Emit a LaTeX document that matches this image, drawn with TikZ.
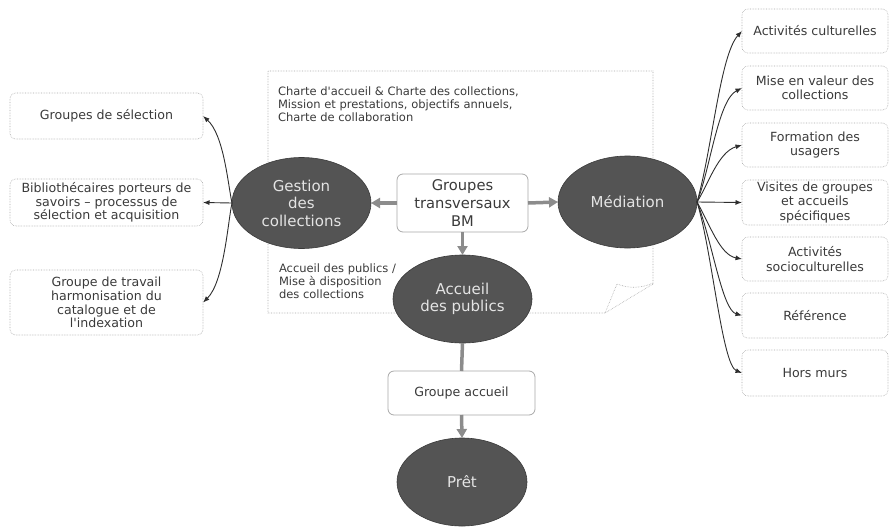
\documentclass[tikz,border=0pt]{standalone}
\usepackage{fontspec}
\setmainfont{DejaVu Sans}
\usetikzlibrary{shapes.geometric,arrows.meta}
\definecolor{txt}{HTML}{3A3A3A}
\definecolor{ellfill}{HTML}{545454}
\definecolor{ellline}{HTML}{3A3A3A}
\definecolor{elltxt}{HTML}{E4E4E4}
\definecolor{thickc}{HTML}{8C8C8C}
\definecolor{boxline}{HTML}{A8A8A8}
\definecolor{thinc}{HTML}{2E2E2E}
\begin{document}
\begin{tikzpicture}[x=1pt,y=-1pt,
  every node/.style={inner sep=0pt, outer sep=0pt},
  oval/.style={ellipse, fill=ellfill, draw=ellline, line width=0.6pt, text=elltxt, align=center,
    font=\fontsize{15}{17.5}\selectfont},
  sidebox/.style={rectangle, rounded corners=6pt, draw=boxline, densely dotted, line width=0.6pt,
    text=txt, align=center, font=\fontsize{12.6}{14.5}\selectfont},
  midbox/.style={rectangle, rounded corners=6pt, draw=boxline, line width=0.8pt,
    text=txt, align=center},
  doctext/.style={text=txt, align=left, anchor=north west, font=\fontsize{11.5}{12.8}\selectfont},
  docline/.style={draw=boxline, densely dotted, line width=0.6pt},
  thickarrow/.style={draw=thickc, line width=3.5pt, -{Triangle[length=9pt,width=10pt]}},
  thickline/.style={draw=thickc, line width=3.5pt},
  thinarrow/.style={draw=thinc, line width=0.9pt, -{Latex[length=6.5pt,width=5pt]}}
]
\useasboundingbox (0,0) rectangle (890,527);

% document shape with folded corner
\draw[docline] (653,284) -- (653,71) -- (268,71) -- (268,313) -- (605,313) -- (653,284);
\draw[docline] (605,313) -- (617,284) .. controls (630,289) and (642,288) .. (653,283);

\node[doctext] (t1) at (278,87) {Charte d\textquotesingle accueil \& Charte des collections,\\Mission et prestations, objectifs annuels,\\Charte de collaboration};
\node[doctext] (t2) at (279,264) {Accueil des publics /\\Mise à disposition\\des collections};

% central nodes
\node[midbox, minimum width=131pt, minimum height=58pt, font=\fontsize{14.7}{18}\selectfont] (gt) at (462.5,203) {Groupes\\transversaux\\BM};
\node[oval, minimum width=139pt, minimum height=91pt] (ges) at (301.5,203) {Gestion\\des\\collections};
\node[oval, minimum width=139pt, minimum height=92pt] (med) at (627.5,202) {Médiation};
\node[oval, minimum width=139pt, minimum height=88pt] (acc) at (462.5,299) {Accueil\\des publics};
\node[midbox, minimum width=147pt, minimum height=44pt, font=\fontsize{12.6}{14.5}\selectfont] (ga) at (461.5,393) {Groupe accueil};
\node[oval, minimum width=130pt, minimum height=88pt] (pret) at (462,482) {Prêt};

% left boxes
\node[sidebox, minimum width=193pt, minimum height=46pt] (l1) at (106.5,116) {Groupes de sélection};
\node[sidebox, minimum width=193pt, minimum height=47pt, font=\fontsize{12.6}{13.5}\selectfont] (l2) at (106.5,202.5) {Bibliothécaires porteurs de\\savoirs – processus de\\sélection et acquisition};
\node[sidebox, minimum width=193pt, minimum height=65pt, font=\fontsize{12.6}{13.7}\selectfont] (l3) at (106.5,302.5) {Groupe de travail\\harmonisation du\\catalogue et de\\l\textquotesingle indexation};

% right boxes
\node[sidebox, minimum width=146pt, minimum height=44pt] (r1) at (815,31) {Activités culturelles};
\node[sidebox, minimum width=146pt, minimum height=44pt] (r2) at (815,88) {Mise en valeur des\\collections};
\node[sidebox, minimum width=146pt, minimum height=44pt] (r3) at (815,145) {Formation des\\usagers};
\node[sidebox, minimum width=146pt, minimum height=45pt] (r4) at (815,202.5) {Visites de groupes\\et accueils\\spécifiques};
\node[sidebox, minimum width=146pt, minimum height=44pt] (r5) at (815,259) {Activités\\socioculturelles};
\node[sidebox, minimum width=146pt, minimum height=45pt] (r6) at (815,315.5) {Référence};
\node[sidebox, minimum width=146pt, minimum height=46pt] (r7) at (815,373) {Hors murs};

% thick gray connectors
\draw[thickarrow] (gt.west) -- (ges.east);
\draw[thickarrow] (gt.east) -- (med.west);
\draw[thickarrow] (gt.south) -- (acc.north);
\draw[thickline] (acc.south) -- (ga.north);
\draw[thickarrow] (ga.south) -- (pret.north);

% left fan
\draw[thinarrow] (ges.west) .. controls (228,185) and (224,135) .. (l1.east);
\draw[thinarrow] (ges.west) -- (l2.east);
\draw[thinarrow] (ges.west) .. controls (228,221) and (224,282) .. (l3.east);

% right fan
\draw[thinarrow] (med.east) .. controls (712,150) and (720,55) .. (r1.west);
\draw[thinarrow] (med.east) .. controls (710,170) and (718,100) .. (r2.west);
\draw[thinarrow] (med.east) .. controls (708,185) and (718,152) .. (r3.west);
\draw[thinarrow] (med.east) -- (r4.west);
\draw[thinarrow] (med.east) .. controls (710,225) and (720,255) .. (r5.west);
\draw[thinarrow] (med.east) .. controls (712,240) and (722,310) .. (r6.west);
\draw[thinarrow] (med.east) .. controls (712,250) and (722,365) .. (r7.west);
\end{tikzpicture}
\end{document}
